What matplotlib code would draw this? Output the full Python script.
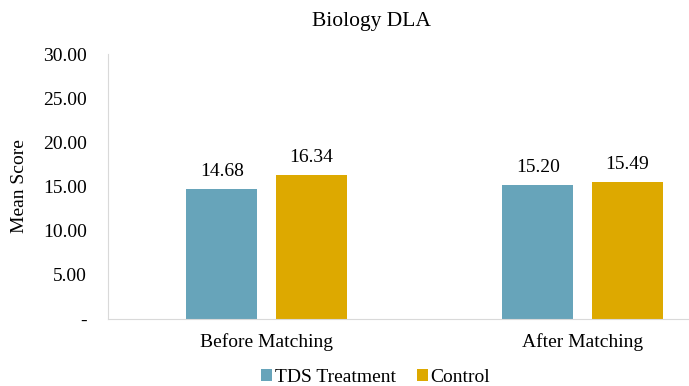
import numpy as np
import matplotlib.pyplot as plt

plt.rcParams['font.family'] = ['Liberation Serif', 'DejaVu Serif']

categories = ['Before Matching', 'After Matching']
treatment = [14.68, 15.20]
control = [16.34, 15.49]
series_names = ['TDS Treatment', 'Control']
yticks = [0, 5, 10, 15, 20, 25, 30]
ytick_labels = ['-', '5.00', '10.00', '15.00', '20.00', '25.00', '30.00']

fs = 14
fig = plt.figure(figsize=(6.89, 3.86), dpi=100)
ax = fig.add_axes([0.1567, 0.1736, 0.8433, 0.6865])

x = np.arange(len(categories))
w = 0.225
off = 0.142
b1 = ax.bar(x - off, treatment, w, color='#67A4BA', label=series_names[0])
b2 = ax.bar(x + off, control, w, color='#DDA900', label=series_names[1])

# value labels above the bars
for bars, vals in [(b1, treatment), (b2, control)]:
    for bar, v in zip(bars, vals):
        ax.annotate(f'{v:.2f}', (bar.get_x() + bar.get_width() / 2, v),
                    xytext=(0, 9.4), textcoords='offset points',
                    ha='center', va='baseline', fontsize=fs)

ax.set_xlim(-0.502, 1.337)
ax.set_ylim(0, 30)
ax.set_xticks(x)
ax.set_xticklabels(categories, fontsize=fs)
ax.set_yticks(yticks)
ax.set_yticklabels(ytick_labels, fontsize=fs)
ax.tick_params(length=0)
ax.tick_params(axis='y', pad=15)
ax.tick_params(axis='x', pad=10)

for s in ['top', 'right']:
    ax.spines[s].set_visible(False)
ax.spines['left'].set_color('#D9D9D9')
ax.spines['bottom'].set_color('#D9D9D9')

ax.set_ylabel('Mean Score', fontsize=fs)
ax.yaxis.set_label_coords(-0.137, 0.5)
fig.text(0.539, 0.933, 'Biology DLA', ha='center', va='baseline', fontsize=15.5)

fig.legend(loc='center', bbox_to_anchor=(0.545, 0.023), ncol=2, frameon=False,
           fontsize=fs, handlelength=0.57, handleheight=0.57, columnspacing=1.08,
           handletextpad=0.15, borderpad=0)

fig.savefig('out.png', dpi=100)
